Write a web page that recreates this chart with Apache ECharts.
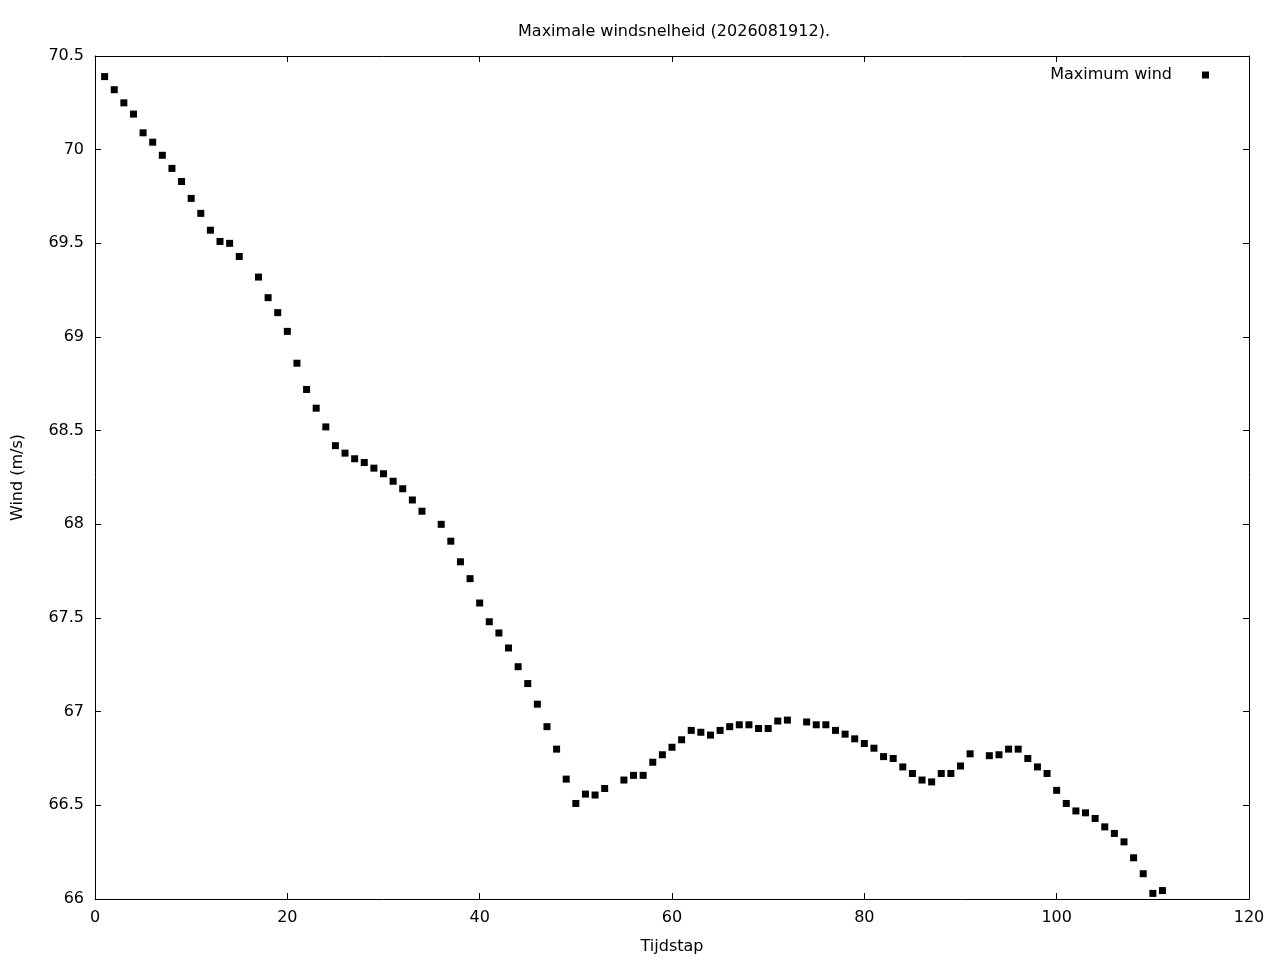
<!DOCTYPE html>
<html>
<head>
<meta charset="utf-8">
<script src="https://cdn.jsdelivr.net/npm/echarts@6/dist/echarts.min.js"></script>
<style>
  html, body { margin: 0; padding: 0; background: #fff; }
  #chart { width: 1280px; height: 960px; }
</style>
</head>
<body>
<div id="chart"></div>
<script>
// time steps (16, 35, 54, 73, 92 are absent in the source)
const steps = [
  1, 2, 3, 4, 5, 6, 7, 8, 9, 10, 11, 12, 13, 14, 15, 17, 18, 19, 20,
  21, 22, 23, 24, 25, 26, 27, 28, 29, 30, 31, 32, 33, 34, 36, 37, 38, 39, 40,
  41, 42, 43, 44, 45, 46, 47, 48, 49, 50, 51, 52, 53, 55, 56, 57, 58, 59, 60,
  61, 62, 63, 64, 65, 66, 67, 68, 69, 70, 71, 72, 74, 75, 76, 77, 78, 79, 80,
  81, 82, 83, 84, 85, 86, 87, 88, 89, 90, 91, 93, 94, 95, 96, 97, 98, 99, 100,
  101, 102, 103, 104, 105, 106, 107, 108, 109, 110, 111
];
const maxWind = [
  70.39, 70.32, 70.25, 70.19, 70.09, 70.04, 69.97, 69.90, 69.83, 69.74, 69.66, 69.57, 69.51, 69.50, 69.43, 69.32, 69.21, 69.13, 69.03,
  68.86, 68.72, 68.62, 68.52, 68.42, 68.38, 68.35, 68.33, 68.30, 68.27, 68.23, 68.19, 68.13, 68.07, 68.00, 67.91, 67.80, 67.71, 67.58,
  67.48, 67.42, 67.34, 67.24, 67.15, 67.04, 66.92, 66.80, 66.64, 66.51, 66.56, 66.555, 66.59, 66.635, 66.66, 66.66, 66.73, 66.77, 66.81,
  66.85, 66.90, 66.89, 66.875, 66.90, 66.92, 66.93, 66.93, 66.91, 66.91, 66.95, 66.955, 66.945, 66.93, 66.93, 66.90, 66.88, 66.855, 66.83,
  66.805, 66.76, 66.75, 66.705, 66.67, 66.635, 66.625, 66.67, 66.67, 66.71, 66.775, 66.765, 66.77, 66.80, 66.80, 66.75, 66.705, 66.67, 66.58,
  66.51, 66.47, 66.46, 66.43, 66.385, 66.35, 66.305, 66.22, 66.135, 66.03, 66.045
];

const chart = echarts.init(document.getElementById('chart'), null, { renderer: 'canvas' });

const font = 'DejaVu Sans';
const label = { color: '#000', fontFamily: font, fontSize: 16 };
// fresh objects per axis so nothing gets shared
const line = () => ({ show: true, onZero: false, lineStyle: { color: '#000', width: 1 } });
const tick = () => ({ show: true, inside: true, length: 6, lineStyle: { color: '#000', width: 1 } });

chart.setOption({
  animation: false,
  backgroundColor: '#fff',
  title: {
    text: 'Maximale windsnelheid (2026081912).',
    left: 669,
    top: 19,
    textAlign: 'center',
    textStyle: { color: '#000', fontFamily: font, fontSize: 16, fontWeight: 'normal' }
  },
  legend: {
    right: 66,
    top: 62,
    align: 'right',
    icon: 'rect',
    itemWidth: 7,
    itemHeight: 7,
    textStyle: { color: '#000', fontFamily: font, fontSize: 16, padding: [0, 25, 0, 0] },
    data: ['Maximum wind']
  },
  grid: { left: 95, right: 31, top: 56, bottom: 61, containLabel: false, outerBoundsMode: 'none' },
  xAxis: [
    {
      type: 'value', min: 0, max: 120, interval: 20,
      name: 'Tijdstap', nameLocation: 'middle', nameGap: 40,
      nameTextStyle: label,
      axisLine: line(), axisTick: tick(),
      axisLabel: Object.assign({ margin: 11 }, label),
      splitLine: { show: false }
    },
    {
      type: 'value', min: 0, max: 120, interval: 20, position: 'top',
      axisLine: line(), axisTick: tick(),
      axisLabel: { show: false }, splitLine: { show: false }
    }
  ],
  yAxis: [
    {
      type: 'value', min: 66, max: 70.5, interval: 0.5,
      name: 'Wind (m/s)', nameLocation: 'middle', nameGap: 69, nameRotate: 90,
      nameTextStyle: label,
      axisLine: line(), axisTick: tick(),
      axisLabel: Object.assign({ margin: 11 }, label),
      splitLine: { show: false }
    },
    {
      type: 'value', min: 66, max: 70.5, interval: 0.5, position: 'right',
      axisLine: line(), axisTick: tick(),
      axisLabel: { show: false }, splitLine: { show: false }
    }
  ],
  series: [
    {
      name: 'Maximum wind',
      type: 'scatter',
      symbol: 'rect',
      symbolSize: 7,
      itemStyle: { color: '#000', opacity: 1 },
      data: steps.map((s, i) => [s, maxWind[i]])
    }
  ]
});
</script>
</body>
</html>
